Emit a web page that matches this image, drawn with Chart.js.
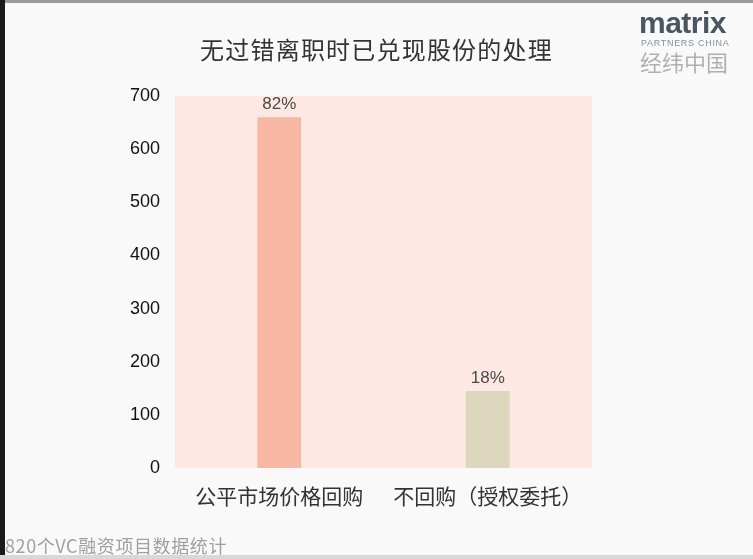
<!DOCTYPE html>
<html>
<head>
<meta charset="utf-8">
<script src="https://cdn.jsdelivr.net/npm/chart.js@4/dist/chart.umd.min.js"></script>
<style>
  html, body { margin: 0; padding: 0; }
  body { width: 753px; height: 559px; background: #f9f9f9; position: relative; overflow: hidden;
         font-family: "Noto Sans CJK SC", "Noto Sans", sans-serif; }
  #wrap { position: absolute; left: 0; top: 0; width: 753px; height: 559px; }
  .edge-left { position: absolute; left: 0; top: 0; width: 5px; height: 559px; background: #1a1a1a; }
  .edge-top { position: absolute; left: 0; top: 0; width: 753px; height: 3px; background: #9a9a9a; }
  .edge-bottom { position: absolute; left: 0; top: 555px; width: 753px; height: 4px; background: #d8d8d8; }
  .title { position: absolute; left: 0; width: 753px; top: 31px; text-align: center; font-size: 24px;
           letter-spacing: 1.2px; color: #333; }
  .logo1 { position: absolute; left: 639px; top: 8px; line-height: 30px; font-family: "Liberation Sans", sans-serif;
           font-weight: bold; font-size: 30px; color: #4b5663; letter-spacing: -0.5px; }
  .logo2 { position: absolute; left: 641px; top: 38px; font-family: "Liberation Sans", sans-serif;
           font-size: 9px; letter-spacing: 0.7px; color: #8a8f96; }
  .logo3 { position: absolute; left: 640px; top: 45px; font-size: 22px; color: #b0b0b0; }
  .foot { position: absolute; left: 5px; top: 532px; font-size: 18px; letter-spacing: 0.6px; color: #a0a0a0; }
</style>
</head>
<body>
<div id="wrap"><canvas id="myChart" width="753" height="559"></canvas></div>
<div class="edge-top"></div>
<div class="edge-left"></div>
<div class="edge-bottom"></div>
<div class="title">无过错离职时已兑现股份的处理</div>
<div class="logo1">matrix</div>
<div class="logo2">PARTNERS CHINA</div>
<div class="logo3">经纬中国</div>
<div class="foot">820个VC融资项目数据统计</div>
<script>
const categories = ["公平市场价格回购", "不回购（授权委托）"];
const counts = [660, 145];
const shares = ["82%", "18%"];
const barColors = ["#f8b7a3", "#ddd7bd"];
const yTicks = [0, 100, 200, 300, 400, 500, 600, 700];

const plotBackground = {
  id: "plotBackground",
  beforeDraw(chart) {
    const { ctx, chartArea } = chart;
    ctx.save();
    ctx.fillStyle = "#fde8e3";
    ctx.fillRect(chartArea.left, chartArea.top, chartArea.right - chartArea.left, chartArea.bottom - chartArea.top);
    ctx.restore();
  }
};

const barLabels = {
  id: "barLabels",
  afterDatasetsDraw(chart) {
    const ctx = chart.ctx;
    const meta = chart.getDatasetMeta(0);
    ctx.save();
    ctx.font = "17px 'Liberation Sans', sans-serif";
    ctx.fillStyle = "#4a4a4a";
    ctx.textAlign = "center";
    ctx.textBaseline = "bottom";
    meta.data.forEach((bar, i) => {
      ctx.fillText(shares[i], bar.x, bar.y - 4);
    });
    ctx.restore();
  }
};

new Chart(document.getElementById("myChart"), {
  type: "bar",
  data: {
    labels: categories,
    datasets: [{
      data: counts,
      backgroundColor: barColors,
      barPercentage: 0.21,
      categoryPercentage: 1
    }]
  },
  options: {
    responsive: false,
    animation: false,
    layout: { padding: { left: 0, top: 96, right: 161, bottom: 0 } },
    plugins: { legend: { display: false }, tooltip: { enabled: false } },
    scales: {
      x: {
        grid: { display: false, drawTicks: false },
        border: { display: false },
        ticks: { padding: 15, color: "#333", font: { family: "Noto Sans CJK SC", size: 21 } },
        afterFit(scale) { scale.height = 91; }
      },
      y: {
        min: 0,
        max: 700,
        afterBuildTicks(scale) { scale.ticks = yTicks.map(v => ({ value: v })); },
        grid: { display: false, drawTicks: false },
        border: { display: false },
        ticks: { padding: 15, color: "#111", font: { family: "Liberation Sans", size: 18 } },
        afterFit(scale) { scale.width = 175; }
      }
    }
  },
  plugins: [plotBackground, barLabels]
});
</script>
</body>
</html>
